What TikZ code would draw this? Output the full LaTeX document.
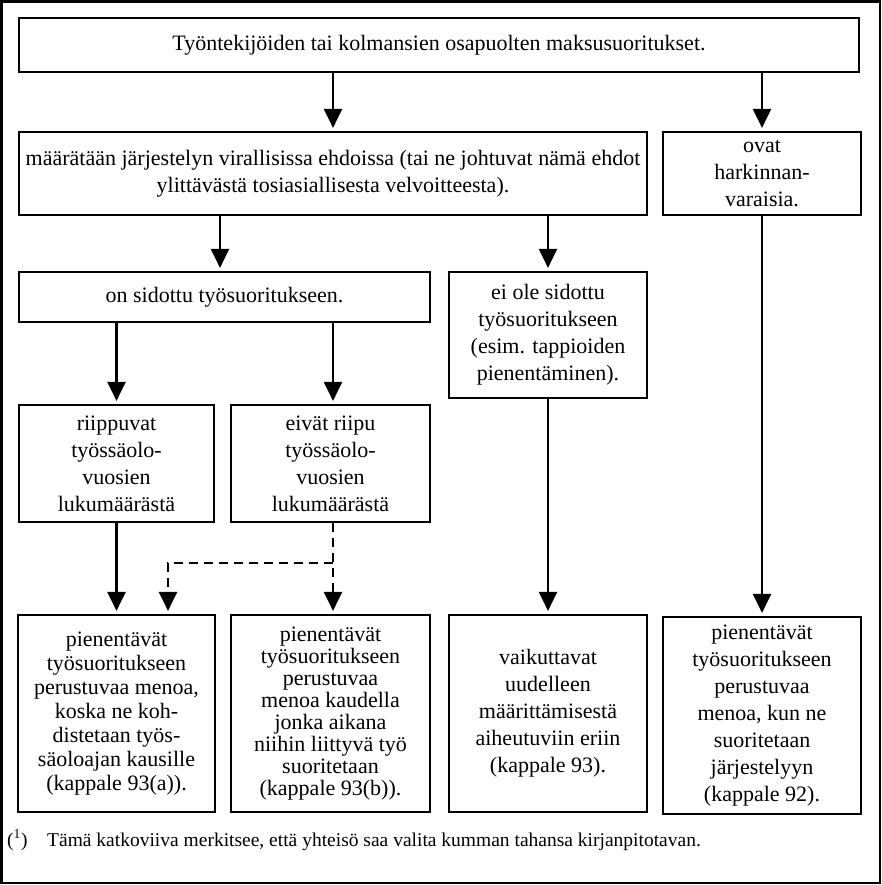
\documentclass[tikz,border=0pt]{standalone}
\usepackage{fontspec}
\setmainfont{Liberation Serif}
\usetikzlibrary{arrows.meta,calc}

\begin{document}
\begin{tikzpicture}[x=1pt,y=-1pt,
  box/.style={draw,line width=2.2pt,inner sep=0pt,align=center,
    font=\fontsize{22}{27}\selectfont},
  arr/.style={line width=2.2pt,-{Triangle[width=18pt,length=19pt]},shorten >=3pt},
  dasharr/.style={arr,dash pattern=on 9pt off 6pt}]
  \useasboundingbox (0,0) rectangle (882,885);
  \draw[line width=2.6pt] (1.5,1.5) rectangle (880,883);
  % top row
  \node[box,minimum width=840,minimum height=54] (top) at (439,45)
    {Työntekijöiden tai kolmansien osapuolten maksusuoritukset.};
  \node[box,minimum width=628,minimum height=83] (cond) at (333,173.5)
    {määrätään järjestelyn virallisissa ehdoissa (tai ne johtuvat nämä ehdot\\
     ylittävästä tosiasiallisesta velvoitteesta).};
  \node[box,minimum width=198,minimum height=83] (disc) at (762,173.5)
    {ovat\\ harkinnan-\\ varaisia.};
  % middle rows
  \node[box,minimum width=411,minimum height=50] (linked) at (224.5,297)
    {on sidottu työsuoritukseen.};
  \node[box,minimum width=198,minimum height=126] (unlinked) at (548,335)
    {ei ole sidottu\\ työsuoritukseen\\ (esim. tappioiden\\ pienentäminen).};
  \node[box,minimum width=195,minimum height=117] (dep) at (116.5,463.5)
    {riippuvat\\ työssäolo-\\ vuosien\\ lukumäärästä};
  \node[box,minimum width=199,minimum height=117] (indep) at (330.5,463.5)
    {eivät riipu\\ työssäolo-\\ vuosien\\ lukumäärästä};
  % results
  \node[box,minimum width=197,minimum height=197,
    font=\fontsize{22}{24}\selectfont] (resA) at (116.5,713.5)
    {pienentävät\\ työsuoritukseen\\ perustuvaa menoa,\\ koska ne koh-\\
     distetaan työs-\\ säoloajan kausille\\ (kappale 93(a)).};
  \node[box,minimum width=199,minimum height=197,
    font=\fontsize{22}{22}\selectfont] (resB) at (330.5,713.5)
    {pienentävät\\ työsuoritukseen\\ perustuvaa\\ menoa kaudella\\
     jonka aikana\\ niihin liittyvä työ\\ suoritetaan\\ (kappale 93(b)).};
  \node[box,minimum width=198,minimum height=197] (resC) at (548,713.5)
    {vaikuttavat\\ uudelleen\\ määrittämisestä\\ aiheutuviin eriin\\ (kappale 93).};
  \node[box,minimum width=198,minimum height=197] (resD) at (762,715.5)
    {pienentävät\\ työsuoritukseen\\ perustuvaa\\ menoa, kun ne\\ suoritetaan\\
     järjestelyyn\\ (kappale 92).};
  % footnote
  \node[anchor=base west,inner sep=0pt,font=\fontsize{19.5}{22}\selectfont]
    (fnmark) at (7,846) {(\textsuperscript{1})};
  \node[anchor=base west,inner sep=0pt,font=\fontsize{19.5}{22}\selectfont]
    (fntext) at (47,846)
    {Tämä katkoviiva merkitsee, että yhteisö saa valita kumman tahansa kirjanpitotavan.};
  % connectors
  \draw[arr] (cond.north |- top.south) -- (cond.north);
  \draw[arr] (disc.north |- top.south) -- (disc.north);
  \draw[arr] ([xshift=-4.5pt]linked.north |- cond.south) -- ([xshift=-4.5pt]linked.north);
  \draw[arr] (unlinked.north |- cond.south) -- (unlinked.north);
  \draw[arr] (dep.north |- linked.south) -- (dep.north);
  \draw[arr] ([xshift=2.5pt]indep.north |- linked.south) -- ([xshift=2.5pt]indep.north);
  \draw[arr] (dep.south) -- (resA.north);
  \draw[dasharr] ([xshift=2.5pt]indep.south) -- ([xshift=2.5pt]resB.north);
  \coordinate (split) at ($(indep.south)+(2.5,40)$);
  \draw[dasharr] (split) -| ([xshift=51.5pt]resA.north);
  \draw[arr] (unlinked.south) -- (resC.north);
  \draw[arr] (disc.south) -- (resD.north);
\end{tikzpicture}
\end{document}
